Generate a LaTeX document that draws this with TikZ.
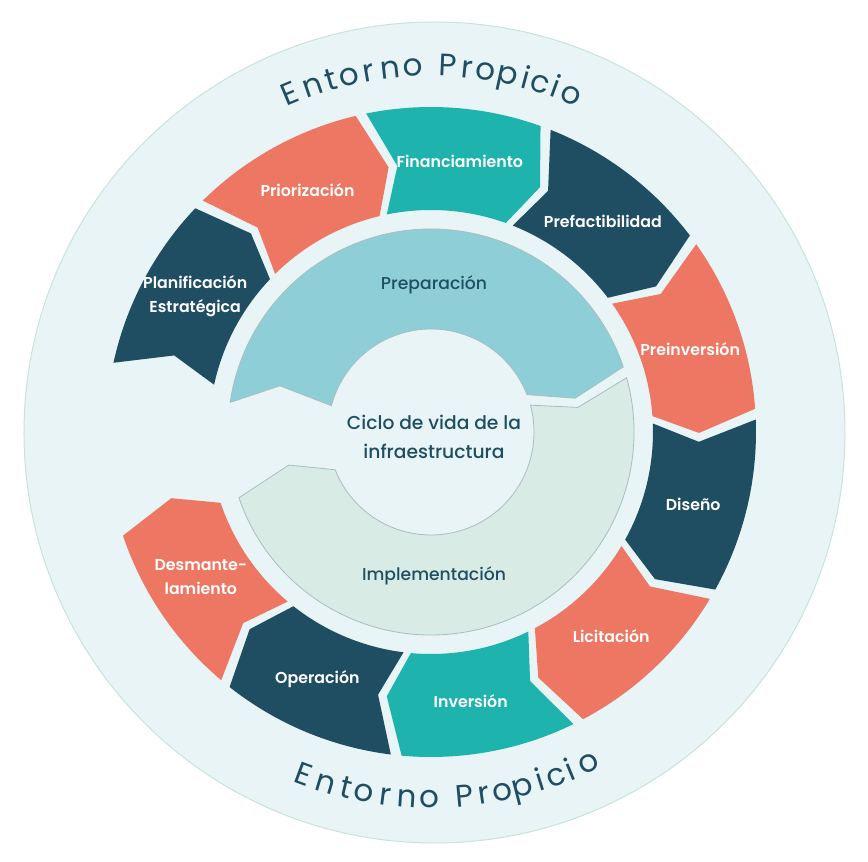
\documentclass[tikz,border=0pt]{standalone}
\usepackage{fontspec}
\setmainfont{Poppins}
\newfontfamily\medfont{Poppins Medium}
\newfontfamily\semifont{Poppins SemiBold}
\usetikzlibrary{positioning}
\definecolor{envfill}{RGB}{232,244,246}
\definecolor{envline}{RGB}{200,228,214}
\definecolor{segnavy}{RGB}{31,78,99}
\definecolor{segcoral}{RGB}{238,119,99}
\definecolor{segteal}{RGB}{31,179,174}
\definecolor{prepfill}{RGB}{142,207,215}
\definecolor{implfill}{RGB}{217,235,229}
\definecolor{phaseline}{RGB}{168,190,190}
\tikzset{
seglabel/.style = {text=white, font=\semifont\fontsize{15.8}{24.5}\selectfont, align=center},
phase/.style = {text=segnavy, font=\medfont\fontsize{17.2}{20}\selectfont},
core/.style = {text=segnavy, font=\medfont\fontsize{18.7}{28.7}\selectfont, align=center},
envletter/.style = {text=segnavy, font=\fontsize{31}{31}\selectfont, inner sep=0pt, anchor=base},
phasebox/.style = {draw=phaseline, line width=0.8pt}
}

\begin{document}
\begin{tikzpicture}[x=1pt, y=1pt]
\useasboundingbox (-431,-430) rectangle (437,432);
\filldraw[fill=envfill, draw=envline, line width=1pt] (3.5,-0.5) circle[radius=410.5pt];
\foreach \lab/\col [count=\i from 0] in {{Planificación\\Estratégica}/segnavy, Priorización/segcoral, Financiamiento/segteal, Prefactibilidad/segnavy, Preinversión/segcoral, Diseño/segnavy, Licitación/segcoral, Inversión/segteal, Operación/segnavy, {Desmante-\\lamiento}/segcoral} {
  \pgfmathsetmacro\segend{136.5-33.1*\i}
  \pgfmathsetmacro\segstart{\segend+31.2}
  \pgfmathsetmacro\segmid{\segend+13.6}
  \fill[\col] (\segstart:325pt) arc[start angle=\segstart, end angle=\segend, radius=325pt] -- ({\segend-4.3}:268pt) -- (\segend:222pt) arc[start angle=\segend, end angle=\segstart, radius=222pt] -- ({\segstart-4.3}:268pt) -- cycle;
  \node[seglabel] (seg\i) at (\segmid:272pt) {\lab};
}
\filldraw[phasebox, fill=prepfill] (171.6:203pt) arc[start angle=171.6, end angle=18.7, radius=203pt] -- (13.2:148pt) -- (21.3:103pt) arc[start angle=21.3, end angle=165.2, radius=103pt] -- (163:158pt) -- cycle;
\filldraw[phasebox, fill=implfill] (15.5:203pt) arc[start angle=15.5, end angle=-161.1, radius=203pt] -- (-166.9:146pt) -- (-158.5:103pt) arc[start angle=-158.5, end angle=15.1, radius=103pt] -- (9.5:149pt) -- cycle;
\node[core] (cycle) at (3,-5) {Ciclo de vida de la\\infraestructura};
\node[phase, above of=cycle, node distance=152pt] (prep) {Preparación};
\node[phase, below of=cycle, node distance=139pt] (impl) {Implementación};
\foreach \ch/\ang [count=\k] in {E/112.7, n/108.9, t/105.9, o/102.9, r/99.8, n/96.4, o/92.9, P/87.4, r/84.3, o/81.4, p/77.8, i/75.0, c/72.6, i/70.1, o/67.5}
  \node[envletter, rotate=\ang-90] (envtop\k) at (\ang:356pt) {\ch};
\foreach \ch/\ang [count=\k] in {E/-110.4, n/-106.7, t/-103.4, o/-100.5, r/-97.2, n/-93.8, o/-90.3, P/-84.8, r/-81.7, o/-78.8, p/-75.5, i/-72.6, c/-70.1, i/-67.6, o/-64.5}
  \node[envletter, rotate=\ang+90] (envbot\k) at (\ang:376pt) {\ch};
\end{tikzpicture}
\end{document}
